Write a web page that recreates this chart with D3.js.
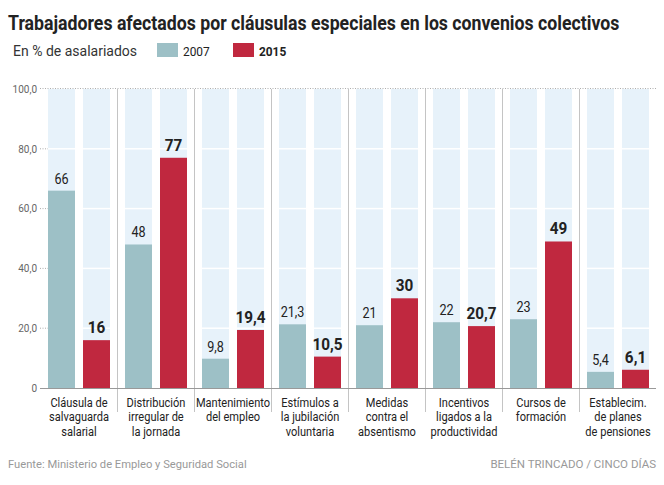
<!DOCTYPE html>
<html><head><meta charset="utf-8">
<script src="https://cdn.jsdelivr.net/npm/d3@7"></script>
<style>
html,body{margin:0;padding:0;background:#fff;}
svg{display:block;font-family:Roboto,"Liberation Sans",sans-serif;}
</style></head>
<body><svg id="c" width="664" height="485"></svg>
<script>
const categories = [
  ["Cláusula de","salvaguarda","salarial"],
  ["Distribución","irregular de","la jornada"],
  ["Mantenimiento","del empleo"],
  ["Estímulos a","la jubilación","voluntaria"],
  ["Medidas","contra el","absentismo"],
  ["Incentivos","ligados a la","productividad"],
  ["Cursos de","formación"],
  ["Establecim.","de planes","de pensiones"]
];
const series = ["2007","2015"];
const values2007 = [66, 48, 9.8, 21.3, 21, 22, 23, 5.4];
const values2015 = [16, 77, 19.4, 10.5, 30, 20.7, 49, 6.1];
const labels2007 = ["66","48","9,8","21,3","21","22","23","5,4"];
const labels2015 = ["16","77","19,4","10,5","30","20,7","49","6,1"];
const yTicks = [0, 20, 40, 60, 80, 100];
const yTickLabels = ["0","20,0","40,0","60,0","80,0","100,0"];

const colors = {"2007":"#9dc0c6","2015":"#c0283f"};
const svg = d3.select("#c");
const ids = categories.map((c,i)=>i);
const x = d3.scaleBand().domain(ids).range([40.5, 656.5]).paddingInner(0).paddingOuter(0);
const xi = d3.scaleBand().domain(series).range([7.5, 69.5]).paddingInner(8/35).paddingOuter(0);
const y = d3.scaleLinear().domain([0,100]).range([388, 89]);

// Title (scaled horizontally to fit the condensed look)
const title = svg.append("text").attr("x",0).attr("y",0)
  .attr("font-size",20).attr("font-weight","bold").attr("fill","#222")
  .text("Trabajadores afectados por cláusulas especiales en los convenios colectivos");
const tw = title.node().getComputedTextLength();
title.attr("transform",`translate(8,30) scale(${612/tw},1)`);

svg.append("text").attr("x",13).attr("y",56).attr("font-size",14).attr("fill","#333")
  .text("En % de asalariados");
// legend
const leg = [{k:"2007",x:157,bold:false},{k:"2015",x:233,bold:true}];
leg.forEach(l=>{
  svg.append("rect").attr("x",l.x).attr("y",43).attr("width",21).attr("height",14).attr("fill",colors[l.k]);
  svg.append("text").attr("font-size",13.5).attr("fill","#222")
    .attr("font-weight",l.bold?"bold":"normal")
    .attr("transform",`translate(${l.x+26},56) scale(0.88,1)`)
    .text(l.k);
});

// background columns
const g = svg.append("g");
ids.forEach(i=>{
  series.forEach(s=>{
    const bx = x(i)+xi(s);
    g.append("rect").attr("x",bx).attr("y",y(100)).attr("width",xi.bandwidth())
      .attr("height",y(0)-y(100)).attr("fill","#e7f2fa");
    yTicks.slice(1,5).forEach(t=>{
      g.append("line").attr("x1",bx).attr("x2",bx+xi.bandwidth()).attr("y1",y(t)).attr("y2",y(t))
        .attr("stroke","#fff").attr("stroke-width",1.5);
    });
  });
});

// separators
ids.slice(1).forEach(i=>{
  svg.append("line").attr("x1",x(i)).attr("x2",x(i)).attr("y1",y(100)).attr("y2",412)
    .attr("stroke","#b5b5b5").attr("stroke-width",0.8);
});

// y axis
const yAxis = d3.axisLeft(y).tickValues(yTicks).tickSize(0).tickPadding(0)
  .tickFormat((d,i)=>yTickLabels[i]);
const ya = svg.append("g").attr("transform","translate(37,0)").call(yAxis);
ya.select(".domain").remove();
ya.selectAll("text").attr("font-size",10).attr("fill","#666").attr("font-family","Roboto,sans-serif")
  .attr("dy","0.32em");
// tick dotted lines
yTicks.forEach(t=>{
  if(t===0){
    svg.append("line").attr("x1",40).attr("x2",656).attr("y1",y(0)+0.5).attr("y2",y(0)+0.5)
      .attr("stroke","#999").attr("stroke-width",1);
  } else if(t===100){
    svg.append("line").attr("x1",40).attr("x2",656).attr("y1",y(100)-0.5).attr("y2",y(100)-0.5)
      .attr("stroke","#999").attr("stroke-width",0.8).attr("stroke-dasharray","1,1.5");
  } else {
    svg.append("line").attr("x1",40).attr("x2",48).attr("y1",y(t)).attr("y2",y(t))
      .attr("stroke","#999").attr("stroke-width",0.8).attr("stroke-dasharray","1,1.5");
  }
});

// bars
const data = [];
ids.forEach(i=>{
  data.push({i, s:"2007", v:values2007[i], l:labels2007[i]});
  data.push({i, s:"2015", v:values2015[i], l:labels2015[i]});
});
svg.append("g").selectAll("rect").data(data).join("rect")
  .attr("x",d=>x(d.i)+xi(d.s)).attr("width",xi.bandwidth())
  .attr("y",d=>y(d.v)).attr("height",d=>y(0)-y(d.v)).attr("fill",d=>colors[d.s]);

// value labels
svg.append("g").selectAll("text").data(data).join("text")
  .attr("transform",d=>`translate(${x(d.i)+xi(d.s)+xi.bandwidth()/2},${y(d.v)-7}) scale(0.9,1)`)
  .attr("text-anchor","middle")
  .attr("font-size",d=>d.s==="2015"?17:14)
  .attr("font-weight",d=>d.s==="2015"?"bold":"normal")
  .attr("fill","#222")
  .text(d=>d.l);

// category labels
ids.forEach(i=>{
  const cx = x(i)+x.bandwidth()/2;
  const t = svg.append("text").attr("transform",`translate(${cx},407) scale(0.85,1)`)
    .attr("text-anchor","middle").attr("font-size",13).attr("fill","#222");
  categories[i].forEach((ln,k)=>{
    t.append("tspan").attr("x",0).attr("y",k*14.3).text(ln);
  });
});

// footer
svg.append("text").attr("x",8).attr("y",468).attr("font-size",11.2).attr("fill","#999")
  .text("Fuente: Ministerio de Empleo y Seguridad Social");
svg.append("text").attr("x",656).attr("y",468).attr("text-anchor","end").attr("font-size",11.5).attr("fill","#999")
  .text("BELÉN TRINCADO / CINCO DÍAS");
</script></body></html>
